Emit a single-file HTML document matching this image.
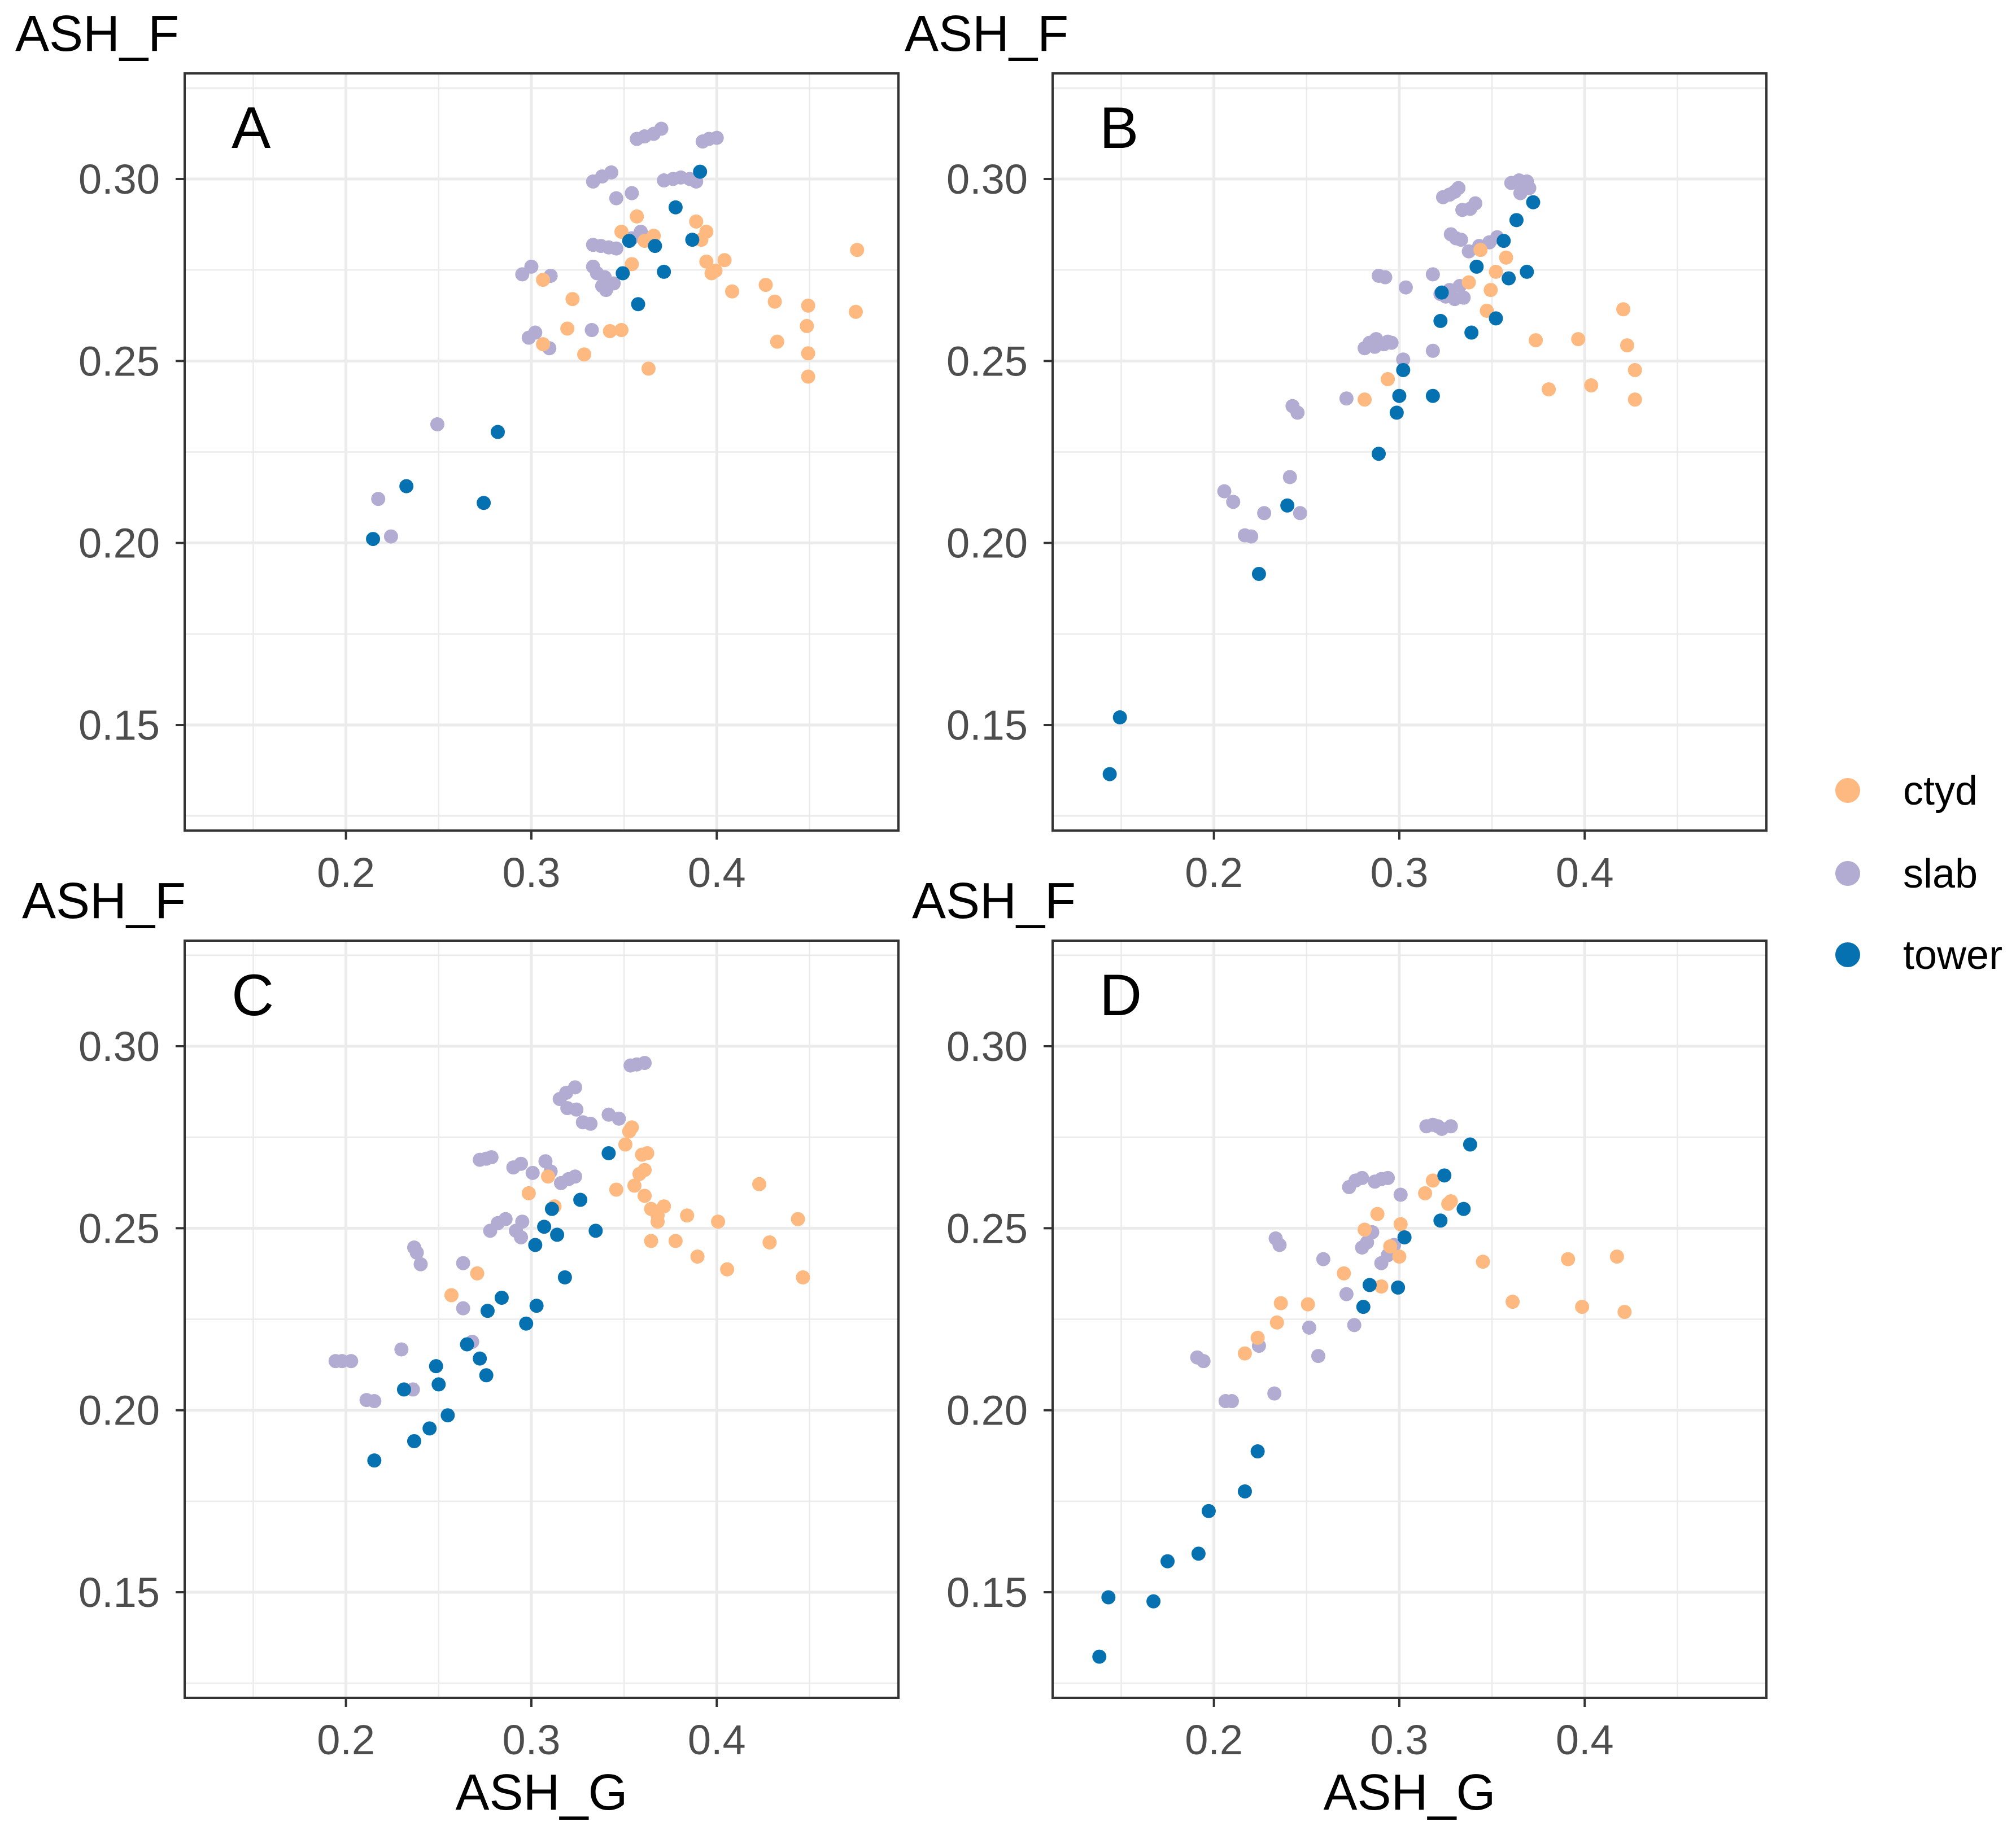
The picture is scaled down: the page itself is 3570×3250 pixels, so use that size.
<!DOCTYPE html>
<html><head><meta charset="utf-8"><style>
html,body{margin:0;padding:0;background:#fff;}
svg{display:block;font-family:"Liberation Sans",Arial,sans-serif;}
</style></head><body>
<svg id="fig" width="3570" height="3250" viewBox="0 0 3570 3250" xmlns="http://www.w3.org/2000/svg">
<rect width="3570" height="3250" fill="#fff"/>
<g id="legend">
  <g><circle cx="3272" cy="1400" r="22" fill="#fdb97f"/><text x="3370" y="1425" font-size="72" fill="#000">ctyd</text></g>
  <g><circle cx="3272" cy="1547" r="22" fill="#b2abd2"/><text x="3370" y="1572" font-size="72" fill="#000">slab</text></g>
  <g><circle cx="3272" cy="1691" r="22" fill="#0571b0"/><text x="3370" y="1716" font-size="72" fill="#000">tower</text></g>
</g>
</svg>
<script>
// ---- data (ASH_G, ASH_F) ----
const xTicks = [0.2, 0.3, 0.4];
const xTickLabels = ["0.2", "0.3", "0.4"];
const yTicks = [0.15, 0.20, 0.25, 0.30];
const yTickLabels = ["0.15", "0.20", "0.25", "0.30"];
const panelLetters = ["A", "B", "C", "D"];
const groups = ["slab", "ctyd", "tower"];

const aTower = [[.2146,.2011],[.2326,.2156],[.2743,.211],[.2819,.2305],[.3493,.2741],[.3528,.283],[.3576,.2656],[.3667,.2816],[.3715,.2745],[.3778,.2922],[.3868,.2833],[.391,.302]];
const aSlab = [[.2174,.2121],[.2243,.2018],[.2493,.2326],[.2951,.2738],[.3,.2759],[.3104,.2734],[.3021,.2578],[.3097,.2535],[.2986,.2564],[.3333,.2993],[.3382,.3007],[.3431,.3018],[.3458,.2947],[.3542,.2961],[.3569,.311],[.3611,.3117],[.366,.3124],[.3701,.3138],[.3715,.2996],[.3764,.3],[.3806,.3004],[.3854,.3],[.3889,.2993],[.3924,.3103],[.3958,.311],[.4,.3113],[.3333,.2819],[.3375,.2816],[.3417,.2812],[.3458,.2809],[.3333,.2759],[.3354,.2741],[.3382,.2706],[.3396,.273],[.3326,.2585],[.3403,.2695],[.3444,.2713],[.3542,.2837],[.359,.2855],[.3611,.284]];
const aCtyd = [[.3063,.2723],[.3063,.2546],[.3222,.267],[.3194,.2589],[.3285,.2518],[.3424,.2582],[.3486,.2585],[.3486,.2855],[.3542,.2766],[.3569,.2897],[.3611,.283],[.3632,.2479],[.366,.2844],[.3889,.2883],[.3917,.2833],[.3944,.2855],[.3944,.2773],[.3972,.2741],[.3993,.2748],[.4042,.2777],[.4083,.2691],[.4264,.2709],[.4313,.2663],[.4326,.2553],[.4493,.2652],[.4486,.2596],[.4493,.2521],[.4493,.2457],[.4757,.2805],[.475,.2635]];

const bTower = [[.1438,.1365],[.1493,.1521],[.2243,.1915],[.2396,.2103],[.2889,.2245],[.2986,.2358],[.3,.2404],[.3021,.2475],[.3181,.2404],[.3222,.261],[.3229,.2688],[.3389,.2578],[.3417,.2759],[.3521,.2617],[.3563,.283],[.359,.2727],[.3632,.2887],[.3688,.2745],[.3722,.2936]];
const bSlab = [[.2056,.2142],[.2104,.2113],[.2167,.2021],[.2201,.2018],[.2271,.2082],[.241,.2181],[.2424,.2376],[.2451,.2358],[.2465,.2082],[.2715,.2397],[.2813,.2535],[.284,.255],[.2868,.2539],[.2889,.2734],[.2924,.273],[.2917,.2546],[.2875,.256],[.2938,.2553],[.2958,.255],[.3021,.2504],[.3035,.2702],[.3181,.2738],[.3181,.2528],[.3222,.2684],[.3236,.295],[.3271,.2957],[.3299,.2965],[.3319,.2975],[.3278,.2848],[.3306,.2837],[.3333,.2833],[.334,.2915],[.3382,.2918],[.341,.2933],[.3375,.2801],[.3431,.2816],[.3486,.2826],[.3528,.284],[.3604,.2989],[.3646,.2996],[.3688,.2993],[.3701,.2975],[.3653,.2961],[.325,.2677],[.3299,.267],[.3347,.2674],[.3326,.2706],[.3271,.2695]];
const bCtyd = [[.2813,.2394],[.2938,.245],[.3375,.2716],[.3438,.2805],[.3472,.2638],[.3493,.2695],[.3521,.2745],[.3576,.2784],[.3736,.2557],[.3806,.2422],[.3965,.256],[.4035,.2433],[.4208,.2642],[.4229,.2543],[.4271,.2475],[.4271,.2394]];

const cTower = [[.2153,.1862],[.2313,.2057],[.2368,.1915],[.2451,.195],[.2486,.2121],[.25,.2071],[.2549,.1986],[.2653,.2181],[.2722,.2142],[.2757,.2096],[.2764,.2273],[.284,.2309],[.2972,.2238],[.3028,.2287],[.3021,.2454],[.3069,.2504],[.3111,.2553],[.3139,.2482],[.3181,.2365],[.3264,.2578],[.3347,.2493],[.3417,.2706]];
const cSlab = [[.1944,.2135],[.1979,.2135],[.2028,.2135],[.2111,.2028],[.2153,.2025],[.2299,.2167],[.2361,.2057],[.2368,.2447],[.2382,.2433],[.2403,.2401],[.2632,.2404],[.2632,.228],[.2681,.2188],[.2722,.2688],[.2757,.2691],[.2785,.2695],[.2778,.2493],[.2819,.2514],[.2861,.2525],[.2903,.2667],[.2944,.2677],[.3007,.2652],[.3076,.2684],[.3104,.2656],[.2917,.2493],[.2944,.2475],[.2951,.2518],[.316,.2624],[.3201,.2635],[.3236,.2642],[.3153,.2855],[.3188,.2872],[.3236,.2887],[.3194,.283],[.3243,.2826],[.3278,.2791],[.3319,.2787],[.3417,.2812],[.3535,.2947],[.3569,.295],[.3611,.2954],[.3472,.2801]];
const cCtyd = [[.2569,.2316],[.2708,.2376],[.2986,.2596],[.309,.2642],[.3125,.256],[.3458,.2606],[.3507,.273],[.3528,.2766],[.3542,.2777],[.3556,.2617],[.3583,.2649],[.3597,.2702],[.3611,.266],[.3625,.2706],[.3646,.2465],[.3611,.2589],[.3646,.2553],[.3681,.2535],[.3715,.256],[.3681,.2518],[.3778,.2465],[.384,.2535],[.3896,.2422],[.4007,.2518],[.4056,.2387],[.4229,.2621],[.4285,.2461],[.4438,.2525],[.4465,.2365]];

const dTower = [[.1382,.1323],[.1431,.1486],[.1674,.1475],[.175,.1585],[.1917,.1606],[.1972,.1723],[.2167,.1777],[.2236,.1887],[.2806,.2284],[.284,.2344],[.2993,.2337],[.3028,.2475],[.3222,.2521],[.3243,.2645],[.3347,.2553],[.3382,.273]];
const dSlab = [[.191,.2145],[.1944,.2135],[.2063,.2025],[.2097,.2025],[.2243,.2177],[.2333,.2472],[.2354,.2454],[.2326,.2046],[.2514,.2227],[.2563,.2149],[.259,.2415],[.2715,.2319],[.2757,.2234],[.2729,.2613],[.2764,.2631],[.2799,.2638],[.2868,.2628],[.2903,.2635],[.2938,.2638],[.2799,.2447],[.2826,.2461],[.2854,.2489],[.2903,.2404],[.2938,.2426],[.2972,.2454],[.3007,.2592],[.3146,.278],[.3181,.2784],[.3208,.278],[.3229,.2773],[.3278,.278]];
const dCtyd = [[.2167,.2156],[.2236,.2199],[.234,.2241],[.2361,.2294],[.2507,.2291],[.2701,.2376],[.2813,.2496],[.2882,.2539],[.2903,.234],[.2951,.245],[.3007,.2511],[.3,.2422],[.3139,.2596],[.3181,.2631],[.3264,.2567],[.3278,.2574],[.3451,.2408],[.3611,.2298],[.391,.2415],[.3986,.2284],[.4174,.2422],[.4215,.227]];

const panelData = [
  {slab:aSlab, ctyd:aCtyd, tower:aTower},
  {slab:bSlab, ctyd:bCtyd, tower:bTower},
  {slab:cSlab, ctyd:cCtyd, tower:cTower},
  {slab:dSlab, ctyd:dCtyd, tower:dTower}
];

// ---- layout ----
const NS = "http://www.w3.org/2000/svg";
const svg = document.getElementById("fig");
const colors = {ctyd:"#fdb97f", slab:"#b2abd2", tower:"#0571b0"};
const xMin = 0.113, xMax = 0.498, yMin = 0.121, yMax = 0.329;
const panW = 1264, panH = 1341;
const lefts = [327, 1864], tops = [130, 1666];
const titleX = [27, 1602, 39, 1615];
function mk(tag, attrs, parent){ const e=document.createElementNS(NS,tag); for(const k in attrs) e.setAttribute(k,attrs[k]); (parent||svg).appendChild(e); return e; }

panelData.forEach((pd, i) => {
  const L = lefts[i%2], T = tops[Math.floor(i/2)];
  const sx = v => L + (v - xMin)/(xMax - xMin)*panW;
  const sy = v => T + panH - (v - yMin)/(yMax - yMin)*panH;
  const g = mk("g", {});
  
  
  mk("rect", {x:L, y:T, width:panW, height:panH, fill:"#fff"}, g);
  for (let k=0;k<xTicks.length+1;k++){ const v = 0.15 + k*0.1; const p = sx(v);
    if (p>L && p<L+panW) mk("line",{x1:p,x2:p,y1:T,y2:T+panH,stroke:"#ebebeb","stroke-width":2.5},g); }
  for (let k=0;k<5;k++){ const v = 0.125 + k*0.05; const p = sy(v);
    if (p>T && p<T+panH) mk("line",{x1:L,x2:L+panW,y1:p,y2:p,stroke:"#ebebeb","stroke-width":2.5},g); }
  xTicks.forEach(v => mk("line",{x1:sx(v),x2:sx(v),y1:T,y2:T+panH,stroke:"#ebebeb","stroke-width":5},g));
  yTicks.forEach(v => mk("line",{x1:L,x2:L+panW,y1:sy(v),y2:sy(v),stroke:"#ebebeb","stroke-width":5},g));
  groups.forEach(grp => {
    pd[grp].forEach(pt => {
      const c = mk("circle",{cx:sx(pt[0]), cy:sy(pt[1]), r:12.5, fill:colors[grp]}, g);
      
      
    });
  });
  const border = mk("rect",{x:L, y:T, width:panW, height:panH, fill:"none", stroke:"#333", "stroke-width":4}, g);
  
  
  xTicks.forEach((v,k) => {
    mk("line",{x1:sx(v),x2:sx(v),y1:T+panH,y2:T+panH+16,stroke:"#333","stroke-width":4},g);
    const t = mk("text",{x:sx(v), y:T+panH+100, "font-size":74, fill:"#4d4d4d", "text-anchor":"middle"},g);
    t.textContent = xTickLabels[k];
    
    
  });
  yTicks.forEach((v,k) => {
    mk("line",{x1:L-16,x2:L,y1:sy(v),y2:sy(v),stroke:"#333","stroke-width":4},g);
    const t = mk("text",{x:L-44, y:sy(v)+26, "font-size":74, fill:"#4d4d4d", "text-anchor":"end"},g);
    t.textContent = yTickLabels[k];
    
    
  });
  const lt = mk("text",{x:L+83, y:T+132, "font-size":104, fill:"#000"},g);
  lt.textContent = panelLetters[i];
  
  
  const yt = mk("text",{x:titleX[i], y:T-40, "font-size":90, fill:"#000"},g);
  yt.textContent = "ASH_F";
  
  
  if (i >= 2) {
    const xt = mk("text",{x:L+panW/2, y:T+panH+198, "font-size":90, fill:"#000", "text-anchor":"middle"},g);
    xt.textContent = "ASH_G";
    
    
  }
});
svg.appendChild(document.getElementById("legend"));
</script>
</body></html>
